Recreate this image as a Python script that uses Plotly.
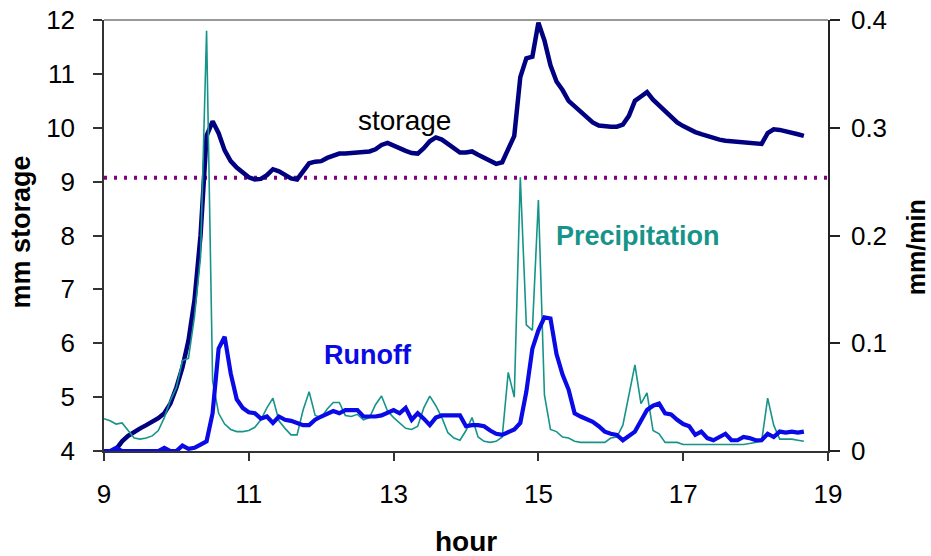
import plotly.graph_objects as go

# ---- data (5-minute steps starting 9:00) ----
step_hours = 5 / 60.0
precip_start = 9.0
precipitation = [
    0.030, 0.028, 0.025, 0.026, 0.019, 0.012, 0.011, 0.012, 0.014, 0.019,
    0.031, 0.047, 0.059, 0.084, 0.086, 0.125, 0.180, 0.390, 0.065, 0.035,
    0.025, 0.020, 0.018, 0.018, 0.019, 0.022, 0.029, 0.040, 0.049, 0.028,
    0.021, 0.015, 0.015, 0.038, 0.055, 0.033, 0.031, 0.039, 0.045, 0.045,
    0.033, 0.032, 0.034, 0.029, 0.031, 0.043, 0.051, 0.037, 0.031, 0.026,
    0.021, 0.020, 0.023, 0.040, 0.051, 0.042, 0.031, 0.017, 0.012, 0.010,
    0.019, 0.031, 0.013, 0.009, 0.008, 0.009, 0.013, 0.073, 0.050, 0.254,
    0.117, 0.112, 0.233, 0.052, 0.020, 0.018, 0.013, 0.012, 0.009, 0.008,
    0.008, 0.008, 0.008, 0.008, 0.012, 0.013, 0.024, 0.052, 0.080, 0.044,
    0.054, 0.019, 0.016, 0.008, 0.008, 0.008, 0.006, 0.006, 0.006, 0.006,
    0.006, 0.006, 0.006, 0.006, 0.006, 0.006, 0.006, 0.007, 0.008, 0.009,
    0.049, 0.024, 0.011, 0.011, 0.011, 0.010, 0.009,
]
runoff = [
    0.000, 0.000, 0.003, 0.000, 0.000, 0.000, 0.000, 0.000, 0.000, 0.000,
    0.003, 0.000, 0.000, 0.005, 0.002, 0.003, 0.006, 0.009, 0.035, 0.095,
    0.106, 0.072, 0.048, 0.040, 0.036, 0.035, 0.030, 0.032, 0.026, 0.032,
    0.029, 0.028, 0.026, 0.024, 0.024, 0.029, 0.032, 0.035, 0.037, 0.035,
    0.038, 0.038, 0.038, 0.032, 0.032, 0.032, 0.033, 0.035, 0.038, 0.035,
    0.040, 0.029, 0.035, 0.030, 0.024, 0.031, 0.033, 0.033, 0.033, 0.033,
    0.023, 0.024, 0.024, 0.023, 0.019, 0.016, 0.015, 0.017, 0.020, 0.026,
    0.055, 0.095, 0.112, 0.124, 0.123, 0.090, 0.071, 0.057, 0.035, 0.032,
    0.030, 0.027, 0.023, 0.018, 0.016, 0.015, 0.010, 0.014, 0.018, 0.028,
    0.038, 0.042, 0.044, 0.035, 0.034, 0.029, 0.025, 0.023, 0.015, 0.018,
    0.012, 0.010, 0.013, 0.016, 0.010, 0.010, 0.013, 0.012, 0.010, 0.010,
    0.016, 0.013, 0.018, 0.017, 0.018, 0.017, 0.018,
]
storage_start = 9.0 + 2 * 5 / 60.0
storage = [
    4.03, 4.18, 4.28, 4.36, 4.42, 4.48, 4.54, 4.61, 4.70, 4.88,
    5.18, 5.55, 6.05, 6.80, 8.00, 9.85, 10.12, 9.90, 9.58, 9.38,
    9.26, 9.16, 9.08, 9.04, 9.05, 9.12, 9.23, 9.19, 9.12, 9.06,
    9.04, 9.20, 9.34, 9.37, 9.38, 9.44, 9.49, 9.52, 9.52, 9.52,
    9.54, 9.55, 9.56, 9.60, 9.68, 9.72, 9.67, 9.60, 9.57, 9.53,
    9.52, 9.62, 9.75, 9.82, 9.78, 9.70, 9.62, 9.54, 9.54, 9.56,
    9.50, 9.44, 9.38, 9.33, 9.36, 9.60, 9.85, 10.94, 11.29, 11.32,
    11.95, 11.62, 11.16, 10.86, 10.70, 10.50, 10.40, 10.30, 10.20, 10.10,
    10.04, 10.02, 10.02, 10.02, 10.06, 10.22, 10.50, 10.58, 10.66, 10.52,
    10.42, 10.30, 10.20, 10.10, 10.03, 9.97, 9.92, 9.88, 9.84, 9.81,
    9.78, 9.76, 9.75, 9.75, 9.74, 9.73, 9.70, 9.70, 9.90, 9.97,
    9.96, 9.94, 9.91, 9.88, 9.85,
]
threshold_storage = 9.07
x_range = [9, 19]
storage_range = [4, 12]
rate_range = [0, 0.4]
rate_ticks = [0, 0.1, 0.2, 0.3, 0.4]
rate_tick_labels = ["0", "0.1", "0.2", "0.3", "0.4"]

hours_p = [precip_start + i * step_hours for i in range(len(precipitation))]
hours_r = [precip_start + i * step_hours for i in range(len(runoff))]
hours_s = [storage_start + i * step_hours for i in range(len(storage))]

FONT = "Arial, Liberation Sans, sans-serif"
NAVY = "#000080"
BLUE = "#0a0ae6"
TEAL = "#16948a"
PURPLE = "#800080"
TICK_SIZE = 26

fig = go.Figure()
fig.add_trace(go.Scatter(x=x_range, y=[threshold_storage, threshold_storage],
                         mode="lines", yaxis="y",
                         line=dict(color=PURPLE, width=4, dash="3px,7px"),
                         showlegend=False, hoverinfo="skip"))
fig.add_trace(go.Scatter(x=hours_p, y=precipitation, mode="lines", yaxis="y2",
                         line=dict(color=TEAL, width=1.6), name="Precipitation",
                         showlegend=False))
fig.add_trace(go.Scatter(x=hours_r, y=runoff, mode="lines", yaxis="y2",
                         line=dict(color=BLUE, width=4.2), name="Runoff",
                         showlegend=False))
fig.add_trace(go.Scatter(x=hours_s, y=storage, mode="lines", yaxis="y",
                         line=dict(color=NAVY, width=4.5), name="storage",
                         showlegend=False))

fig.update_layout(
    width=931, height=556,
    margin=dict(l=104, r=103, t=20, b=105, autoexpand=False),
    paper_bgcolor="white", plot_bgcolor="white",
    font=dict(family=FONT, size=TICK_SIZE, color="black"),
    xaxis=dict(range=x_range, tick0=9, dtick=2, showgrid=False, zeroline=False,
               showline=True, linecolor="#333333", linewidth=1.5, automargin=False,
               ticks="outside", ticklen=8, tickcolor="#333333", tickwidth=1.5,
               ticklabelstandoff=11, tickfont=dict(size=TICK_SIZE)),
    yaxis=dict(range=storage_range, dtick=1, showgrid=False, zeroline=False,
               showline=True, linecolor="#333333", linewidth=1.5, automargin=False,
               ticks="outside", ticklen=9, tickcolor="#333333", tickwidth=1.5,
               ticklabelstandoff=13, tickfont=dict(size=TICK_SIZE)),
    yaxis2=dict(range=rate_range, tickvals=rate_ticks, ticktext=rate_tick_labels,
                overlaying="y", side="right", automargin=False,
                showgrid=False, zeroline=False, showline=True,
                linecolor="#222222", linewidth=1.5, ticks="outside", ticklen=10,
                tickcolor="#222222", tickwidth=1.5, ticklabelstandoff=6,
                tickfont=dict(size=TICK_SIZE)),
    yaxis3=dict(range=rate_range, tickvals=rate_ticks, overlaying="y", side="right",
                showgrid=False, zeroline=False, showline=False, automargin=False,
                ticks="inside", ticklen=8, tickcolor="#222222", tickwidth=1.5,
                showticklabels=False),
)

# gray top frame line
fig.add_shape(type="line", xref="paper", yref="paper", x0=0, x1=1, y0=1, y1=1,
              line=dict(color="#999999", width=2))

# series labels
fig.add_annotation(x=13.15, y=10.14, xref="x", yref="y", text="storage",
                   showarrow=False, font=dict(size=28, color="black"),
                   xanchor="center", yanchor="middle")
fig.add_annotation(x=16.37, y=0.200, xref="x", yref="y2", text="<b>Precipitation</b>",
                   showarrow=False, font=dict(size=27, color=TEAL),
                   xanchor="center", yanchor="middle")
fig.add_annotation(x=12.65, y=0.089, xref="x", yref="y2", text="<b>Runoff</b>",
                   showarrow=False, font=dict(size=27, color=BLUE),
                   xanchor="center", yanchor="middle")

# axis titles
fig.add_annotation(x=-0.114, y=0.508, xref="paper", yref="paper",
                   text="<b>mm storage</b>", textangle=-90, showarrow=False,
                   font=dict(size=27), xanchor="center", yanchor="middle")
fig.add_annotation(x=1.1216, y=0.473, xref="paper", yref="paper",
                   text="<b>mm/min</b>", textangle=-90, showarrow=False,
                   font=dict(size=25), xanchor="center", yanchor="middle")
fig.add_annotation(x=0.4997, y=-0.209, xref="paper", yref="paper",
                   text="<b>hour</b>", showarrow=False, font=dict(size=28),
                   xanchor="center", yanchor="middle")

fig.write_html("out.html", config={"displayModeBar": False},
               post_script="document.body.style.margin='0px';")
